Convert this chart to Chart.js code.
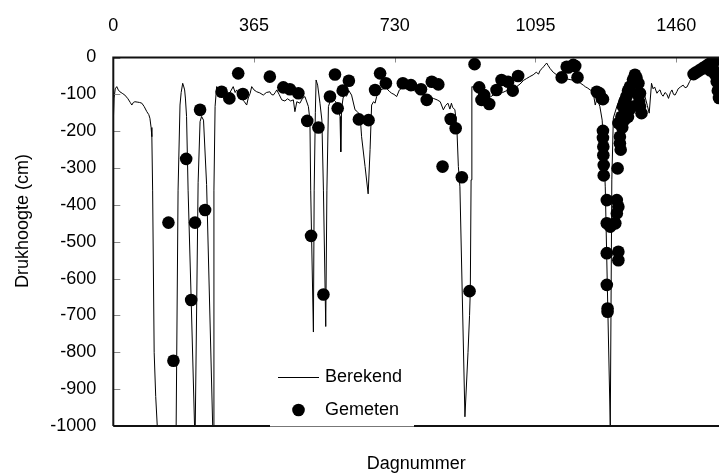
<!DOCTYPE html>
<html>
<head>
<meta charset="utf-8">
<script src="https://cdn.jsdelivr.net/npm/chart.js@4"></script>
<style>
  html, body { margin: 0; padding: 0; background: #fff; overflow: hidden; }
  #wrap { width: 719px; height: 474px; }
</style>
</head>
<body>
<div id="wrap"><canvas id="drukChart"></canvas></div>
<script>
// as-labels
const dayTicks = [0, 365, 730, 1095, 1460];
const headTicks = [0, -100, -200, -300, -400, -500, -600, -700, -800, -900, -1000];

// Berekend (dagnummer, drukhoogte cm)
const calcDays = [0, 2, 5, 9, 13, 17, 23, 30, 38, 44, 48, 52, 56, 62, 68, 74, 80, 87, 92, 95, 98, 100,
  102, 106, 110, 114, 117, 160, 163, 168, 173, 176, 180, 183, 185, 187, 190, 194, 202, 212, 220, 225,
  229, 234, 242, 259, 261, 264, 268, 275, 281, 290, 300, 311, 316, 320, 326, 333, 340, 346, 350, 355,
  359, 365, 372, 380, 389, 397, 406, 410, 415, 420, 424, 430, 437, 445, 452, 460, 467, 471, 476, 484,
  490, 497, 506, 510, 512, 519, 521, 524, 526, 530, 536, 541, 545, 551, 554, 558, 562, 567, 572, 577,
  584, 588, 590, 592, 596, 600, 605, 611, 618, 627, 633, 640, 644, 653, 661, 666, 670, 675, 679, 683,
  692, 700, 709, 716, 722, 728, 735, 742, 750, 760, 770, 780, 790, 800, 810, 820, 830, 840, 848, 856,
  862, 868, 873, 877, 880, 886, 891, 895, 899, 912, 920, 924, 926, 928, 930, 938, 945, 951, 958, 965,
  972, 977, 985, 994, 1003, 1010, 1020, 1029, 1037, 1045, 1055, 1064, 1072, 1080, 1089, 1097, 1103,
  1107, 1112, 1116, 1120, 1124, 1128, 1133, 1141, 1150, 1158, 1167, 1176, 1185, 1195, 1204, 1212,
  1219, 1225, 1229, 1237, 1242, 1245, 1250, 1255, 1262, 1268, 1272, 1276, 1289, 1293, 1297, 1306,
  1314, 1322, 1330, 1340, 1350, 1358, 1366, 1374, 1380, 1385, 1390, 1392, 1396, 1400, 1404, 1410,
  1415, 1418, 1422, 1426, 1431, 1436, 1440, 1445, 1449, 1453, 1457, 1462, 1465, 1471, 1478, 1483,
  1488, 1495, 1500, 1505, 1510, 1514, 1520, 1530, 1540, 1548, 1560, 1571];
const calcHead = [-175, -110, -85, -79, -88, -93, -97, -102, -112, -122, -129, -122, -120, -121, -122,
  -124, -133, -147, -155, -165, -190, -215, -360, -800, -920, -1000, -1150, -1150, -1000, -360, -129,
  -95, -70, -80, -88, -110, -160, -360, -658, -1050, -340, -174, -160, -170, -345, -1050, -360, -133,
  -79, -85, -88, -95, -100, -79, -95, -88, -100, -112, -120, -129, -110, -97, -79, -88, -93, -96, -102,
  -95, -93, -100, -102, -95, -88, -100, -115, -118, -112, -118, -115, -147, -120, -124, -112, -106,
  -133, -170, -360, -745, -360, -150, -61, -75, -124, -170, -360, -730, -360, -133, -120, -110, -115,
  -120, -142, -160, -256, -140, -110, -100, -105, -90, -102, -142, -147, -156, -215, -296, -370, -250,
  -129, -120, -124, -106, -88, -85, -84, -92, -97, -100, -106, -88, -82, -85, -88, -90, -93, -97, -103,
  -108, -111, -115, -120, -142, -130, -124, -140, -124, -135, -142, -188, -296, -351, -975, -800, -700,
  -631, -332, -79, -82, -90, -95, -105, -115, -110, -108, -102, -100, -97, -95, -90, -88, -85, -80,
  -72, -62, -57, -52, -47, -40, -45, -35, -30, -25, -20, -15, -22, -30, -40, -47, -52, -55, -58, -60,
  -62, -65, -70, -75, -80, -82, -88, -92, -97, -129, -110, -133, -170, -250, -351, -1000, -332, -164,
  -133, -110, -95, -80, -70, -62, -60, -70, -90, -110, -130, -151, -151, -70, -85, -80, -97, -90, -88,
  -100, -105, -95, -100, -111, -95, -88, -100, -102, -92, -85, -80, -75, -82, -80, -65, -55, -43, -40,
  -35, -30, -20, -15, -12, -8, -5];

// Gemeten
const measDays = [143, 156, 189, 202, 212, 225, 238, 281, 301, 324, 336, 406, 441, 458, 480, 503, 513,
  532, 545, 562, 575, 582, 595, 611, 637, 662, 679, 692, 707, 751, 772, 798, 813, 826, 843, 854, 875,
  888, 904, 924, 937, 949, 955, 962, 975, 994, 1007, 1024, 1036, 1050, 1163, 1176, 1180, 1193, 1198,
  1204, 1254, 1261, 1267, 1270, 1270, 1270, 1271, 1271, 1272, 1272, 1280, 1280, 1280, 1280, 1282,
  1282, 1289, 1302, 1306, 1306, 1308, 1310, 1310, 1310, 1310, 1314, 1314, 1316, 1318, 1320, 1322,
  1325, 1326, 1330, 1331, 1335, 1335, 1340, 1340, 1344, 1348, 1353, 1357, 1360, 1362, 1364, 1366,
  1366, 1370, 1505, 1512, 1520, 1528, 1535, 1542, 1548, 1550, 1555, 1556, 1560, 1562, 1565, 1568,
  1568, 1571];
const measHead = [-448, -823, -275, -658, -448, -142, -414, -93, -111, -43, -99, -52, -81, -86, -97,
  -172, -484, -190, -643, -106, -46, -138, -90, -63, -168, -170, -88, -43, -70, -70, -75, -86, -115,
  -66, -73, -296, -167, -192, -325, -634, -18, -81, -115, -102, -126, -88, -61, -66, -90, -50, -54,
  -25, -27, -20, -23, -54, -93, -97, -111, -113, -199, -218, -242, -265, -292, -320, -387, -450, -531,
  -617, -681, -690, -459, -450, -387, -423, -301, -405, -527, -550, -178, -215, -233, -250, -161,
  -190, -133, -170, -120, -150, -106, -90, -161, -79, -140, -133, -60, -47, -55, -100, -70, -120,
  -97, -133, -151, -45, -40, -35, -30, -25, -20, -35, -15, -30, -10, -45, -7, -65, -5, -90, -110];

const fontName = '"Liberation Sans", Arial, sans-serif';

// kader, tickjes naar binnen, astitels en legenda
const framePlugin = {
  id: 'frame',
  afterDraw(chart) {
    const ctx = chart.ctx;
    const a = chart.chartArea;
    const xs = chart.scales.x, ys = chart.scales.y;
    ctx.save();
    ctx.strokeStyle = '#8a8a8a';
    ctx.lineWidth = 1;
    dayTicks.forEach(d => {
      const px = Math.round(xs.getPixelForValue(d)) + 0.5;
      ctx.beginPath(); ctx.moveTo(px, a.top); ctx.lineTo(px, a.top + 5); ctx.stroke();
    });
    headTicks.forEach(h => {
      const py = Math.round(ys.getPixelForValue(h)) + 0.5;
      ctx.beginPath(); ctx.moveTo(a.left, py); ctx.lineTo(a.left + 7, py); ctx.stroke();
    });
    ctx.strokeStyle = '#111';
    ctx.lineWidth = 2;
    ctx.beginPath();
    ctx.moveTo(a.left, a.bottom); ctx.lineTo(a.left, a.top); ctx.lineTo(a.right, a.top);
    ctx.moveTo(a.left, a.bottom); ctx.lineTo(a.right, a.bottom);
    ctx.stroke();

    // legenda
    ctx.fillStyle = '#fff';
    ctx.fillRect(270, 360, 144, 67);
    ctx.strokeStyle = '#777';
    ctx.lineWidth = 1;
    ctx.beginPath(); ctx.moveTo(270, a.bottom + 0.5); ctx.lineTo(414, a.bottom + 0.5); ctx.stroke();
    ctx.strokeStyle = '#000';
    ctx.beginPath(); ctx.moveTo(278, 377.5); ctx.lineTo(319, 377.5); ctx.stroke();
    ctx.fillStyle = '#000';
    ctx.beginPath(); ctx.arc(298.5, 410, 6.3, 0, Math.PI * 2); ctx.fill();
    ctx.font = '18px ' + fontName;
    ctx.textBaseline = 'middle';
    ctx.textAlign = 'left';
    ctx.fillText('Berekend', 325, 377);
    ctx.fillText('Gemeten', 325, 410);

    // astitels
    ctx.textAlign = 'center';
    ctx.textBaseline = 'alphabetic';
    ctx.fillText('Dagnummer', (a.left + a.right) / 2, 469);
    ctx.translate(23, 221);
    ctx.rotate(-Math.PI / 2);
    ctx.textBaseline = 'middle';
    ctx.fillText('Drukhoogte (cm)', 0, 0);
    ctx.restore();
  }
};

const ctx = document.getElementById('drukChart').getContext('2d');
new Chart(ctx, {
  type: 'scatter',
  data: {
    datasets: [
      {
        label: 'Berekend',
        data: calcDays.map((d, i) => ({ x: d, y: calcHead[i] })),
        showLine: true,
        borderColor: '#000',
        borderWidth: 1,
        pointRadius: 0,
        tension: 0,
        order: 2
      },
      {
        label: 'Gemeten',
        data: measDays.map((d, i) => ({ x: d, y: measHead[i] })),
        backgroundColor: '#000',
        borderWidth: 0,
        pointRadius: 6.3,
        order: 1
      }
    ]
  },
  options: {
    responsive: true,
    maintainAspectRatio: false,
    animation: false,
    layout: { autoPadding: false, padding: { left: 0, right: 0, top: 0, bottom: 48 } },
    plugins: {
      legend: { display: false },
      tooltip: { enabled: false }
    },
    scales: {
      x: {
        type: 'linear',
        position: 'top',
        min: 0,
        max: 1571,
        grid: { display: false, drawTicks: false },
        border: { display: false },
        afterBuildTicks: s => { s.ticks = dayTicks.map(v => ({ value: v })); },
        afterFit: s => { s.height = 57.5; s.paddingLeft = 0; s.paddingRight = 0; },
        ticks: {
          padding: 21,
          color: '#000',
          font: { family: fontName, size: 18 },
          maxRotation: 0,
          callback: v => String(v)
        }
      },
      y: {
        type: 'linear',
        min: -1000,
        max: 0,
        grid: { display: false, drawTicks: false },
        border: { display: false },
        afterBuildTicks: s => { s.ticks = headTicks.map(v => ({ value: v })); },
        afterFit: s => { s.width = 113.3; s.paddingTop = 0; s.paddingBottom = 0; },
        ticks: {
          padding: 17,
          color: '#000',
          font: { family: fontName, size: 18 },
          callback: v => String(v)
        }
      }
    }
  },
  plugins: [framePlugin]
});
</script>
</body>
</html>
